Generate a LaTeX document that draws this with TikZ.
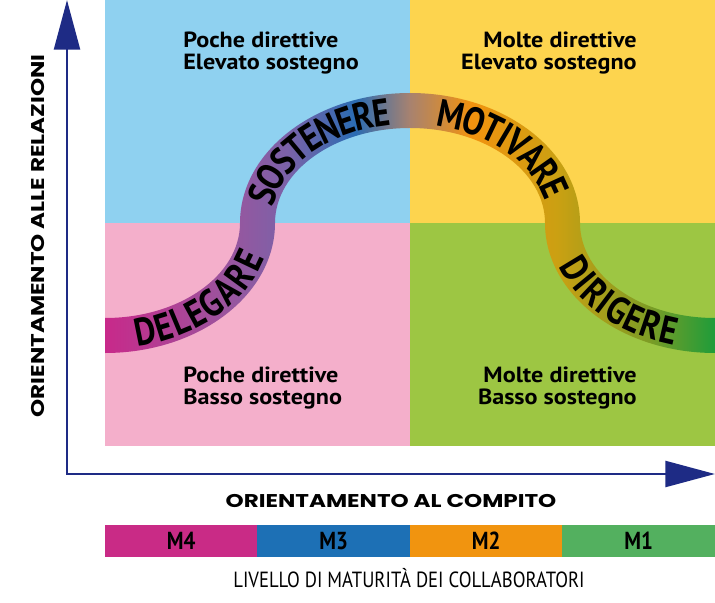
\documentclass[tikz,border=0pt]{standalone}
\usepackage{fontspec}
\setmainfont{PT Sans}
\newfontfamily\quadfont[FakeStretch=1.1]{PT Sans}
\newfontfamily\bandfont[FakeStretch=0.85]{PT Sans}
\newfontfamily\condfont[FakeStretch=0.85]{PT Sans}
\newfontfamily\axisfont[FakeStretch=1.25]{Poppins}
\usepackage{xcolor}
\definecolor{quadblue}{HTML}{8FD1F0}
\definecolor{quadyellow}{HTML}{FDD44E}
\definecolor{quadpink}{HTML}{F4AFCB}
\definecolor{quadgreen}{HTML}{9DC643}
\definecolor{axisblue}{HTML}{1E2B85}
\definecolor{mfour}{HTML}{C92B86}
\definecolor{mthree}{HTML}{1D70B5}
\definecolor{mtwo}{HTML}{F1940F}
\definecolor{mone}{HTML}{53B05F}
\definecolor{bandA}{HTML}{C8298A}
\definecolor{bandB}{HTML}{9A559E}
\definecolor{bandC}{HTML}{7A62A8}
\definecolor{bandD}{HTML}{2A6CB3}
\definecolor{bandE}{HTML}{A8826F}
\definecolor{bandF}{HTML}{F2920F}
\definecolor{bandG}{HTML}{CBA012}
\definecolor{bandH}{HTML}{7E9C25}
\definecolor{bandI}{HTML}{1E9C3A}
\usepackage{tikz}
\usetikzlibrary{positioning,arrows.meta,decorations.text}
\pgfdeclarehorizontalshading{bandshade}{100bp}{color(0bp)=(bandA); color(25bp)=(bandA);
  color(35bp)=(bandB); color(40bp)=(bandC); color(45.5bp)=(bandD); color(50bp)=(bandE);
  color(55bp)=(bandF); color(62bp)=(bandG); color(69.5bp)=(bandH); color(75bp)=(bandI);
  color(100bp)=(bandI)}
\tikzset{
  quadtxt/.style ={inner sep=0pt, font=\quadfont\bfseries\fontsize{12.5}{12}\selectfont},
  axis/.style    ={draw=axisblue, line width=1.7pt,
                   {Triangle[length=28.3pt, width=14.7pt]}-{Triangle[length=28.3pt, width=14.7pt]}},
  axislbl/.style ={font=\axisfont\bfseries\fontsize{10.5}{12}\selectfont, inner sep=0pt},
  mbox/.style    ={minimum width=3.05cm, minimum height=0.64cm, inner sep=0pt, outer sep=0pt,
                   anchor=west, font=\condfont\bfseries\fontsize{14}{14}\selectfont},
  bandtext/.style={decorate, decoration={text along path,
                   text={|\bandfont\bfseries\fontsize{22}{22}\selectfont|#1},
                   text align=center, raise=-7.7pt}},
}

\begin{document}
\begin{tikzpicture}[x=0.02cm, y=0.02cm]
  \useasboundingbox (0,0) rectangle (715,602);
  % quadranti
  \fill[quadblue]   (105,379) rectangle (410,602);
  \fill[quadyellow] (410,379) rectangle (715,602);
  \fill[quadpink]   (105,156) rectangle (410,379);
  \fill[quadgreen]  (410,156) rectangle (715,379);
  \node[quadtxt, anchor=north west, align=left]  (tl) at (183,570) {Poche direttive\\Elevato sostegno};
  \node[quadtxt, anchor=north east, align=right] (tr) at (637,570) {Molte direttive\\Elevato sostegno};
  \node[quadtxt, anchor=north west, align=left]  (bl) at (183,235) {Poche direttive\\Basso sostegno};
  \node[quadtxt, anchor=north east, align=right] (br) at (637,235) {Molte direttive\\Basso sostegno};
  % curva
  \shade[shading=bandshade] (105,284)
    arc[start angle=270, end angle=360, x radius=135, y radius=95]
    arc[start angle=180, end angle=90, x radius=170, y radius=130]
    arc[start angle=90, end angle=0, x radius=170, y radius=130]
    arc[start angle=180, end angle=270, x radius=135, y radius=95]
    -- (715,249)
    arc[start angle=270, end angle=180, x radius=170, y radius=130]
    arc[start angle=0, end angle=90, x radius=135, y radius=95]
    arc[start angle=90, end angle=180, x radius=135, y radius=95]
    arc[start angle=360, end angle=270, x radius=170, y radius=130]
    -- cycle;
  \path[bandtext=DELEGARE]  (105,266.5) arc[start angle=270, end angle=360, x radius=152.5, y radius=112.5];
  \path[bandtext=SOSTENERE] (257.5,379) arc[start angle=180, end angle=90, x radius=152.5, y radius=112.5];
  \path[bandtext=MOTIVARE]  (410,491.5) arc[start angle=90, end angle=0, x radius=152.5, y radius=112.5];
  \path[bandtext=DIRIGERE]  (562.5,379) arc[start angle=180, end angle=270, x radius=152.5, y radius=112.5];
  % assi
  \coordinate (origin) at (67,128);
  \coordinate (ytip) at (67,602);
  \coordinate (xtip) at (715,128);
  \draw[axis] (ytip) -- (origin) -- (xtip);
  \node[axislbl, rotate=90] (ylbl) at (38,366) {ORIENTAMENTO ALLE RELAZIONI};
  \node[axislbl] (xlbl) at (391,101) {ORIENTAMENTO AL COMPITO};
  % livelli di maturita
  \node[mbox, fill=mfour] (m4) at (105,61) {M4};
  \node[mbox, fill=mthree, right=0mm of m4] (m3) {M3};
  \node[mbox, fill=mtwo,   right=0mm of m3] (m2) {M2};
  \node[mbox, fill=mone,   right=0mm of m2] (m1) {M1};
  \node[font=\condfont\fontsize{12.5}{14}\selectfont, inner sep=0pt] (mlbl) at (409,23.5)
    {LIVELLO DI MATURITÀ DEI COLLABORATORI};
\end{tikzpicture}
\end{document}
